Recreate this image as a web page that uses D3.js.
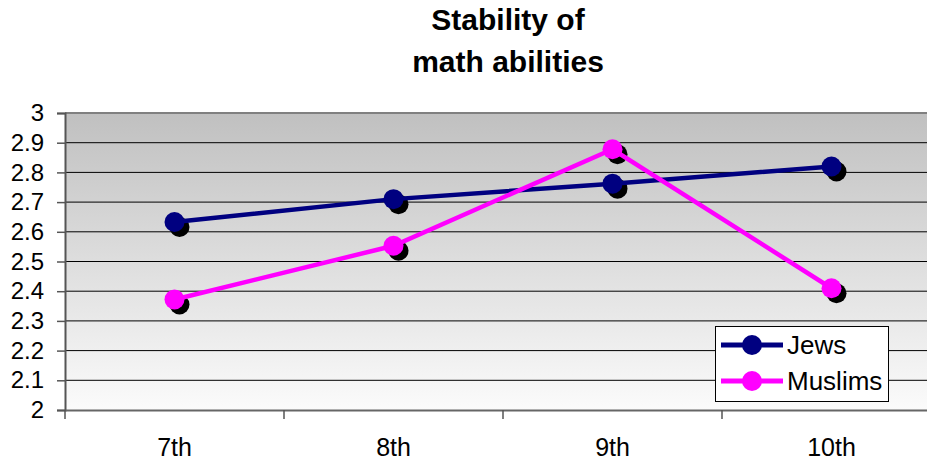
<!DOCTYPE html>
<html><head><meta charset="utf-8">
<script src="https://cdn.jsdelivr.net/npm/d3@7"></script>
<style>body{margin:0;background:#fff}svg{display:block;font-family:"Liberation Sans",Arial,sans-serif}</style>
</head><body><svg id="c" width="927" height="464"></svg>
<script>
const categories = ["7th","8th","9th","10th"];
const jews = [2.633, 2.71, 2.762, 2.82];
const muslims = [2.372, 2.553, 2.878, 2.41];
const yTicks = [2,2.1,2.2,2.3,2.4,2.5,2.6,2.7,2.8,2.9,3];
const seriesNames = ["Jews","Muslims"];
const seriesColors = ["#000080","#ff00ff"];

const svg = d3.select("#c");
const L = 65, R = 941, T = 113, B = 410;
const x = d3.scaleBand().domain(categories).range([L, R]);
const y = d3.scaleLinear().domain([2,3]).range([B, T]);

const defs = svg.append("defs");
const g = defs.append("linearGradient").attr("id","bg").attr("x1",0).attr("y1",0).attr("x2",0).attr("y2",1);
g.append("stop").attr("offset","0%").attr("stop-color","#c0c0c0");
g.append("stop").attr("offset","100%").attr("stop-color","#fbfbfb");

svg.append("rect").attr("x",L).attr("y",T).attr("width",R-L).attr("height",B-T).attr("fill","url(#bg)");

svg.append("g").selectAll("line").data(yTicks.slice(1,-1)).join("line")
  .attr("x1",L).attr("x2",R).attr("y1",d=>y(d)).attr("y2",d=>y(d))
  .attr("stroke","#000").attr("stroke-width",1);
svg.append("line").attr("x1",L).attr("x2",R).attr("y1",T).attr("y2",T).attr("stroke","#808080").attr("stroke-width",2);

const ya = svg.append("g").attr("transform",`translate(${L},0)`)
  .call(d3.axisLeft(y).tickValues(yTicks).tickSize(8).tickPadding(13).tickFormat(d=>d3.format("")(+d.toFixed(1))));
ya.select(".domain").attr("stroke","#555").attr("stroke-width",2);
ya.selectAll(".tick line").attr("stroke","#555").attr("stroke-width",1.5);
ya.selectAll("text").attr("font-size",24).attr("fill","#000").attr("font-family","Liberation Sans, Arial, sans-serif");

const xa = svg.append("g").attr("transform",`translate(0,${B})`)
  .call(d3.axisBottom(x).tickSize(0).tickPadding(28));
xa.select(".domain").attr("stroke","#666").attr("stroke-width",2);
xa.selectAll("text").attr("font-size",25).attr("fill","#000").attr("font-family","Liberation Sans, Arial, sans-serif");
const edges = categories.map(c=>x(c)).concat([x(categories[categories.length-1])+x.bandwidth()]);
svg.append("g").selectAll("line").data(edges).join("line")
  .attr("x1",d=>d).attr("x2",d=>d).attr("y1",B).attr("y2",B+9)
  .attr("stroke","#555").attr("stroke-width",1.5);

const cx = c => x(c) + x.bandwidth()/2;
const series = [jews, muslims];
series.forEach(vals=>{
  svg.append("g").selectAll("circle").data(vals).join("circle")
    .attr("cx",(d,i)=>cx(categories[i])+5).attr("cy",d=>y(d)+5).attr("r",10).attr("fill","#000");
});
series.forEach((vals,si)=>{
  const line = d3.line().x((d,i)=>cx(categories[i])).y(d=>y(d));
  svg.append("path").datum(vals).attr("d",line).attr("fill","none")
    .attr("stroke",seriesColors[si]).attr("stroke-width",4.5);
  svg.append("g").selectAll("circle").data(vals).join("circle")
    .attr("cx",(d,i)=>cx(categories[i])).attr("cy",d=>y(d)).attr("r",10).attr("fill",seriesColors[si]);
});

const lg = svg.append("g");
lg.append("rect").attr("x",715.5).attr("y",326.5).attr("width",173).attr("height",75)
  .attr("fill","#fff").attr("stroke","#000").attr("stroke-width",1);
seriesNames.forEach((n,i)=>{
  const yy = 345 + i*36;
  lg.append("line").attr("x1",721).attr("x2",783).attr("y1",yy).attr("y2",yy)
    .attr("stroke",seriesColors[i]).attr("stroke-width",5);
  lg.append("circle").attr("cx",752).attr("cy",yy).attr("r",10).attr("fill",seriesColors[i]);
  lg.append("text").attr("x",787).attr("y",yy+9).attr("font-size",26).attr("fill","#000").text(n);
});

const title = svg.append("text").attr("text-anchor","middle").attr("font-weight","bold").attr("font-size",30);
title.append("tspan").attr("x",508).attr("y",30).text("Stability of");
title.append("tspan").attr("x",508).attr("y",72).text("math abilities");
</script></body></html>
